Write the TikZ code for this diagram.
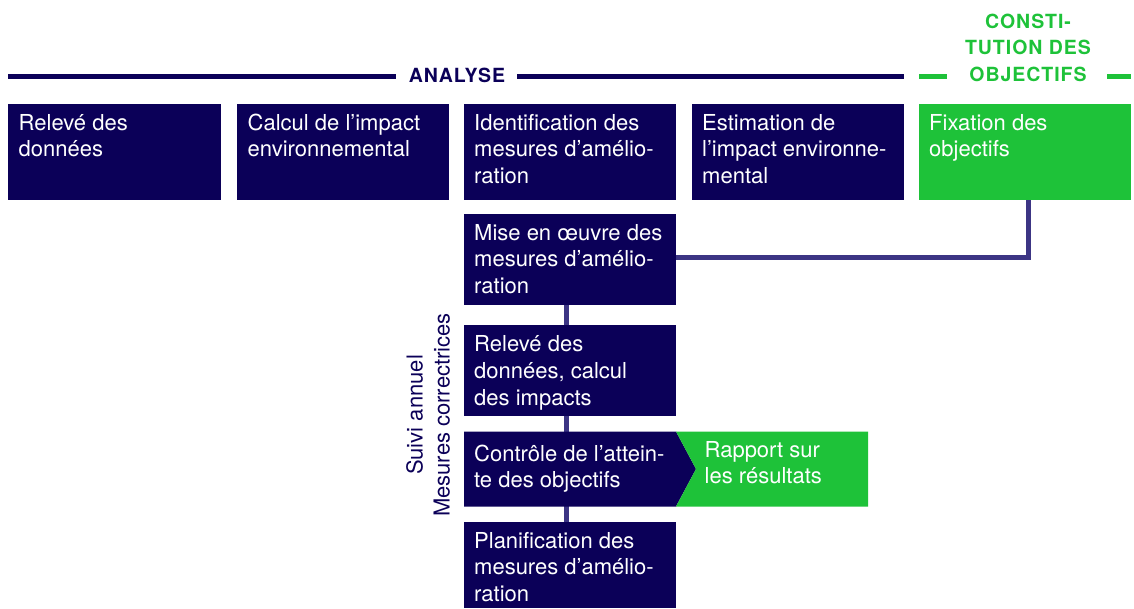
\documentclass[tikz,border=0pt]{standalone}
\usepackage{fontspec}
\setmainfont{TeX Gyre Heros}
\usetikzlibrary{backgrounds}
\definecolor{navy}{HTML}{0B0058}
\definecolor{grn}{HTML}{1EC239}
\definecolor{linkc}{HTML}{3C3584}
\newcommand{\mlt}[1]{\parbox[t]{230pt}{#1}}
\newcommand{\mlc}[1]{\parbox[t]{240pt}{\centering #1}}
\begin{document}
\begin{tikzpicture}[x=1pt,y=-1pt,
  navybox/.style={fill=navy, inner sep=0pt, outer sep=0pt, anchor=north west, minimum height=96pt},
  greenbox/.style={fill=grn, inner sep=0pt, outer sep=0pt, anchor=north west, minimum height=96pt},
  txt/.style={text=white, inner sep=0pt, anchor=base west, font=\fontsize{22}{26.8}\selectfont},
  headtxt/.style={inner sep=0pt, anchor=base, font=\bfseries\fontsize{19.5}{26.5}\selectfont\addfontfeature{LetterSpace=5}},
  rule/.style={line width=5pt},
  linkline/.style={draw=linkc, line width=5pt}]
\useasboundingbox (0,0) rectangle (1134,608);

% heading
\node[headtxt, text=navy] (ana) at (457,82) {ANALYSE};
\coordinate (aL1) at (8,76.5);
\coordinate (aL2) at (396,76.5);
\coordinate (aR1) at (517,76.5);
\coordinate (aR2) at (904,76.5);
\draw[rule, navy] (aL1) -- (aL2);
\draw[rule, navy] (aR1) -- (aR2);
\node[headtxt, text=grn] (con) at (1028,28.3) {\mlc{CONSTI-\\TUTION DES\\OBJECTIFS}};
\coordinate (gL1) at (919,76.8);
\coordinate (gL2) at (947,76.8);
\coordinate (gR1) at (1107,76.8);
\coordinate (gR2) at (1131,76.8);
\draw[rule, grn] (gL1) -- (gL2);
\draw[rule, grn] (gR1) -- (gR2);

% top row
\node[navybox, minimum width=212.5pt] (b1) at (8,104) {};
\node[navybox, minimum width=211.5pt] (b2) at (237,104) {};
\node[navybox, minimum width=212pt] (b3) at (464,104) {};
\node[navybox, minimum width=212pt] (b4) at (692,104) {};
\node[greenbox, minimum width=212pt] (fix) at (919,104) {};
\node[txt] (t1) at (18.5,130) {\mlt{Relevé des\\données}};
\node[txt] (t2) at (247.5,130) {\mlt{Calcul de l’impact\\environnemental}};
\node[txt] (t3) at (474,130) {\mlt{Identification des\\mesures d’amélio-\\ration}};
\node[txt] (t4) at (702,130) {\mlt{Estimation de\\l’impact environne-\\mental}};
\node[txt] (t5) at (929,130) {\mlt{Fixation des\\objectifs}};

% column
\node[navybox, minimum width=212pt, minimum height=90.5pt] (mise) at (464,214) {};
\node[navybox, minimum width=212pt, minimum height=90.5pt] (rel) at (464,325) {};
\node[navybox, minimum width=212pt, minimum height=86pt] (plan) at (464,522) {};
\coordinate (cA) at (464,431.5);
\coordinate (cB) at (676,431.5);
\coordinate (cT) at (696,469);
\coordinate (cC) at (676,506.5);
\coordinate (cD) at (464,506.5);
\coordinate (gB) at (868,431.5);
\coordinate (gC) at (868,506.5);
\fill[navy] (cA) -- (cB) -- (cT) -- (cC) -- (cD) -- cycle;
\fill[grn] (cB) -- (gB) -- (gC) -- (cC) -- (cT) -- cycle;

\node[txt] (t6) at (474,240) {\mlt{Mise en œuvre des\\mesures d’amélio-\\ration}};
\node[txt] (t7) at (474,351.5) {\mlt{Relevé des\\données, calcul\\des impacts}};
\node[txt] (t8) at (474,461) {\mlt{Contrôle de l’attein-\\te des objectifs}};
\node[txt] (t9) at (704.5,457) {\mlt{Rapport sur\\les résultats}};
\node[txt] (t10) at (474,548) {\mlt{Planification des\\mesures d’amélio-\\ration}};

\node[txt, text=navy, anchor=base, rotate=90] (suivi) at (422.7,415) {\mlc{Suivi annuel\\Mesures correctrices}};

\begin{scope}[on background layer]
\draw[linkline] ([xshift=-3.5pt]mise.south) -- ([xshift=-3.5pt]plan.north);
\draw[linkline] ([yshift=1.75pt]mise.east) -| ([xshift=3pt]fix.south);
\end{scope}
\end{tikzpicture}
\end{document}
